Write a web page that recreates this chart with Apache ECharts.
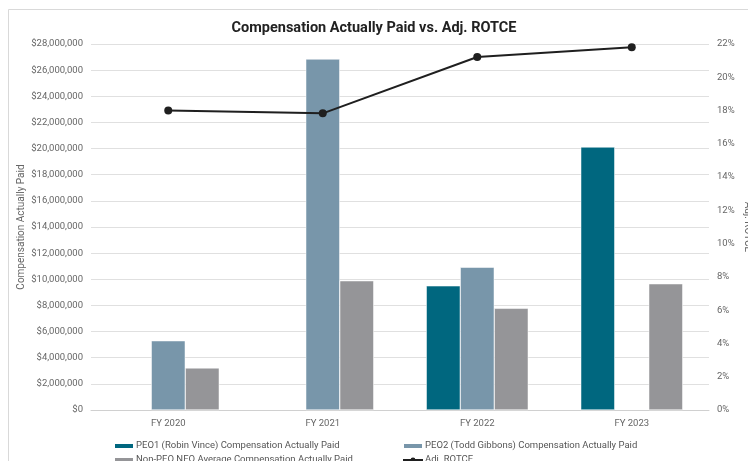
<!DOCTYPE html>
<html><head><meta charset="utf-8">
<script src="https://cdn.jsdelivr.net/npm/echarts@6/dist/echarts.min.js"></script>
<style>html,body{margin:0;padding:0;background:#fff}#c{width:748px;height:461px}</style>
</head><body><div id="c"></div>
<script>
var categories = ['FY 2020', 'FY 2021', 'FY 2022', 'FY 2023'];
var peo1 = [null, null, 9500000, 20120000];
var peo2 = [5300000, 26850000, 10920000, null];
var nonPeo = [3220000, 9890000, 7780000, 9660000];
var rotce = [18.0, 17.83, 21.22, 21.8];
var leftTicks = {min: 0, max: 28000000, interval: 2000000};
var rightTicks = {min: 0, max: 22, interval: 2};

var chart = echarts.init(document.getElementById('c'), null, {renderer: 'canvas'});
var font = 'Roboto';
var lab = {color: '#666', fontSize: 9.5, fontFamily: font};
function leg(name, left, top, icon) {
  var d = {name: name};
  if (icon) d.icon = icon;
  return {left: left, top: top, itemWidth: 20, itemHeight: 6, padding: 0,
    textStyle: {color: '#555', fontSize: 9.5, fontFamily: font, padding: [0, 0, 0, -3]},
    data: [d]};
}
chart.setOption({
  animation: false,
  backgroundColor: '#fff',
  graphic: [{type: 'rect', shape: {x: 8.5, y: 9.5, width: 760, height: 470}, style: {fill: 'none', stroke: '#d9d9d9', lineWidth: 1}}],
  title: {text: 'Compensation Actually Paid vs. Adj. ROTCE', left: 'center', top: 16,
    textStyle: {fontFamily: font, fontSize: 14.5, fontWeight: 'bold', color: '#222'}},
  grid: {left: 91, right: 39, top: 44, bottom: 51, containLabel: false, outerBoundsMode: 'none'},
  legend: [
    leg('PEO1 (Robin Vince) Compensation Actually Paid', 113, 441, 'rect'),
    leg('PEO2 (Todd Gibbons) Compensation Actually Paid', 402, 441, 'rect'),
    leg('Non-PEO NEO Average Compensation Actually Paid', 113, 455, 'rect'),
    leg('Adj. ROTCE', 402, 455)
  ],
  xAxis: {type: 'category', data: categories,
    axisLine: {lineStyle: {color: '#d0d0d0'}}, axisTick: {show: false},
    axisLabel: Object.assign({margin: 9}, lab)},
  yAxis: [
    {type: 'value', min: leftTicks.min, max: leftTicks.max, interval: leftTicks.interval,
     name: 'Compensation Actually Paid', nameLocation: 'middle', nameGap: 65, nameMoveOverlap: false,
     nameTextStyle: {color: '#666', fontSize: 10, fontFamily: font},
     axisLabel: Object.assign({margin: 8, formatter: function (v) { return '$' + v.toLocaleString('en-US'); }}, lab),
     splitLine: {lineStyle: {color: '#e0e0e0'}}, axisLine: {show: false}},
    {type: 'value', min: rightTicks.min, max: rightTicks.max, interval: rightTicks.interval,
     name: 'Adj. ROTCE', nameLocation: 'middle', nameGap: 33, nameRotate: -90, nameMoveOverlap: false,
     nameTextStyle: {color: '#666', fontSize: 10, fontFamily: font},
     axisLabel: Object.assign({margin: 8, formatter: '{value}%'}, lab),
     splitLine: {show: false}, axisLine: {show: false}}
  ],
  series: [
    {name: 'PEO1 (Robin Vince) Compensation Actually Paid', type: 'bar', data: peo1, barWidth: 34, barGap: '0%',
     itemStyle: {color: '#00677f', borderColor: '#fff', borderWidth: 0.5}},
    {name: 'PEO2 (Todd Gibbons) Compensation Actually Paid', type: 'bar', data: peo2, barWidth: 34, barGap: '0%',
     itemStyle: {color: '#7896aa', borderColor: '#fff', borderWidth: 0.5}},
    {name: 'Non-PEO NEO Average Compensation Actually Paid', type: 'bar', data: nonPeo, barWidth: 34, barGap: '0%',
     itemStyle: {color: '#959598', borderColor: '#fff', borderWidth: 0.5}},
    {name: 'Adj. ROTCE', type: 'line', yAxisIndex: 1, data: rotce, symbol: 'circle', symbolSize: 8,
     lineStyle: {color: '#1f1f1f', width: 2}, itemStyle: {color: '#1f1f1f'}}
  ]
});
</script></body></html>
